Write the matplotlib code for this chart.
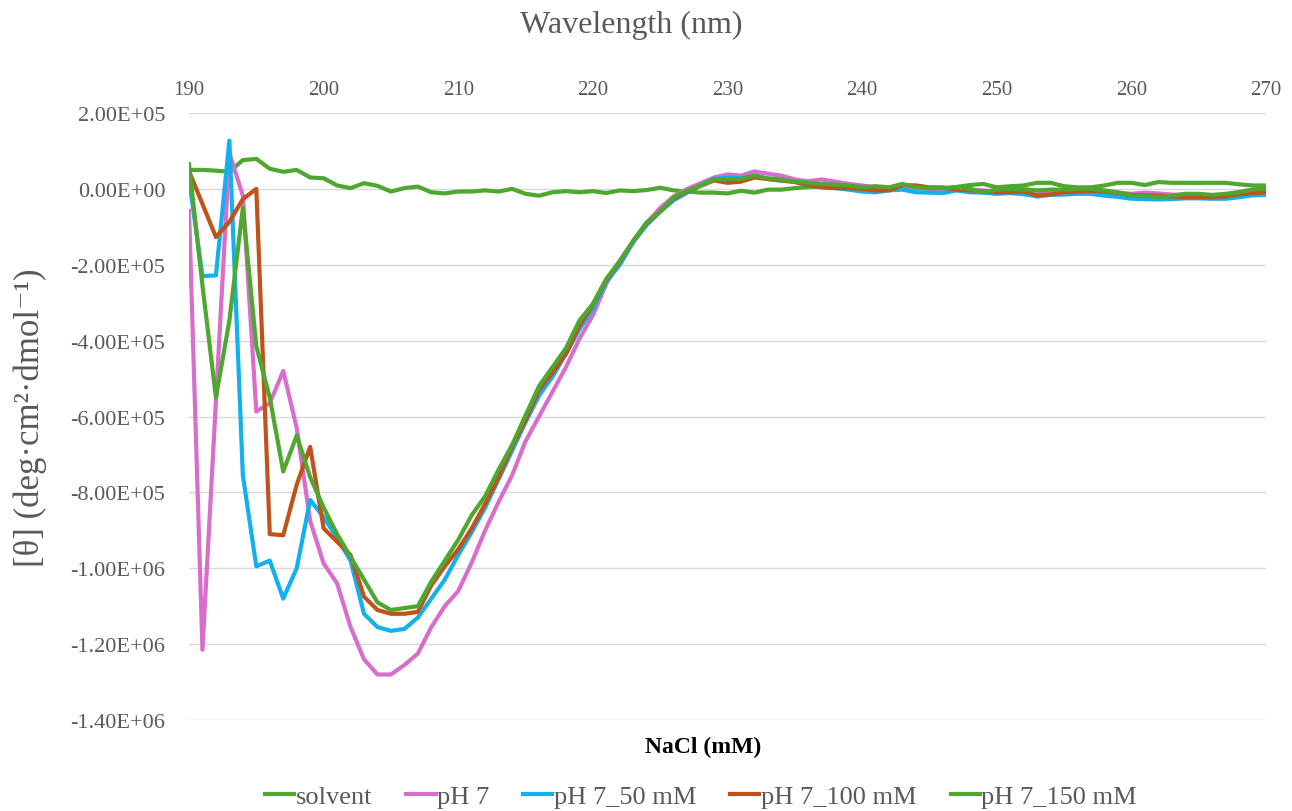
import numpy as np
import matplotlib
matplotlib.use("Agg")
import matplotlib.pyplot as plt

# CD spectra, mean residue ellipticity in units of 1e5 deg cm2 dmol-1
wavelength = np.arange(190, 271)

solvent = [
    0.50, 0.50, 0.48, 0.45, 0.76, 0.79, 0.53, 0.45, 0.50, 0.30,
    0.28, 0.09, 0.02, 0.15, 0.08, -0.07, 0.02, 0.06, -0.09, -0.12,
    -0.07, -0.07, -0.04, -0.07, 0.00, -0.13, -0.18, -0.09, -0.06, -0.09,
    -0.06, -0.11, -0.04, -0.06, -0.03, 0.03, -0.04, -0.07, -0.10, -0.10,
    -0.12, -0.05, -0.10, -0.02, -0.02, 0.02, 0.05, 0.06, 0.04, 0.03,
    0.02, 0.05, 0.03, 0.05, 0.04, 0.02, 0.01, 0.05, 0.10, 0.13,
    0.04, 0.07, 0.09, 0.16, 0.16, 0.07, 0.04, 0.04, 0.09, 0.16,
    0.16, 0.10, 0.18, 0.16, 0.16, 0.16, 0.16, 0.16, 0.12, 0.09,
    0.09,
]
ph7 = [
    -0.58, -12.15, -5.60, 0.95, -0.18, -5.87, -5.65, -4.80, -6.30, -8.75,
    -9.87, -10.40, -11.55, -12.40, -12.80, -12.80, -12.55, -12.25, -11.55, -11.00,
    -10.60, -9.85, -9.00, -8.25, -7.55, -6.65, -6.00, -5.35, -4.70, -3.95,
    -3.33, -2.50, -1.90, -1.40, -0.90, -0.50, -0.20, 0.00, 0.15, 0.30,
    0.38, 0.35, 0.46, 0.40, 0.35, 0.25, 0.20, 0.25, 0.19, 0.13,
    0.09, 0.04, 0.02, 0.03, 0.01, 0.00, 0.00, -0.01, -0.02, -0.04,
    -0.07, -0.05, 0.00, -0.05, -0.07, -0.05, -0.04, -0.05, -0.08, -0.10,
    -0.13, -0.10, -0.12, -0.15, -0.16, -0.17, -0.18, -0.15, -0.08, -0.02,
    0.00,
]
ph7_50 = [
    0.26, -2.30, -2.28, 1.27, -7.55, -9.95, -9.80, -10.80, -10.00, -8.20,
    -8.65, -9.20, -9.80, -11.20, -11.55, -11.65, -11.60, -11.30, -10.80, -10.30,
    -9.65, -9.05, -8.40, -7.65, -6.90, -6.15, -5.45, -4.95, -4.35, -3.70,
    -3.15, -2.45, -2.00, -1.40, -0.95, -0.60, -0.30, -0.10, 0.10, 0.26,
    0.30, 0.28, 0.35, 0.26, 0.22, 0.19, 0.09, 0.05, 0.02, -0.02,
    -0.07, -0.09, -0.04, -0.02, -0.09, -0.10, -0.11, -0.04, -0.09, -0.10,
    -0.13, -0.11, -0.14, -0.20, -0.16, -0.15, -0.13, -0.13, -0.18, -0.21,
    -0.26, -0.27, -0.28, -0.27, -0.25, -0.25, -0.26, -0.26, -0.22, -0.17,
    -0.16,
]
ph7_100 = [
    0.47, -0.40, -1.27, -0.87, -0.27, 0.00, -9.10, -9.13, -7.80, -6.80,
    -8.95, -9.30, -9.65, -10.75, -11.10, -11.20, -11.20, -11.15, -10.45, -9.95,
    -9.50, -8.95, -8.30, -7.60, -6.80, -6.10, -5.30, -4.85, -4.35, -3.60,
    -3.05, -2.40, -1.92, -1.37, -0.90, -0.60, -0.25, -0.07, 0.08, 0.22,
    0.16, 0.19, 0.30, 0.26, 0.22, 0.18, 0.10, 0.04, 0.02, 0.02,
    0.00, -0.04, -0.04, 0.10, 0.09, 0.04, 0.04, -0.02, -0.04, -0.07,
    -0.09, -0.09, -0.07, -0.17, -0.15, -0.09, -0.07, -0.05, -0.07, -0.11,
    -0.16, -0.17, -0.18, -0.20, -0.22, -0.22, -0.22, -0.20, -0.14, -0.11,
    -0.09,
]
ph7_150 = [
    0.65, -2.55, -5.50, -3.47, -0.50, -4.15, -5.50, -7.45, -6.50, -7.60,
    -8.40, -9.10, -9.70, -10.30, -10.90, -11.10, -11.05, -11.00, -10.35, -9.80,
    -9.25, -8.60, -8.10, -7.40, -6.75, -5.97, -5.20, -4.70, -4.20, -3.47,
    -3.03, -2.37, -1.90, -1.37, -0.88, -0.60, -0.22, -0.05, 0.08, 0.25,
    0.25, 0.26, 0.35, 0.28, 0.25, 0.19, 0.16, 0.13, 0.11, 0.09,
    0.04, 0.07, 0.04, 0.13, 0.04, 0.02, 0.02, 0.04, 0.00, -0.09,
    -0.02, 0.00, -0.02, -0.04, -0.02, -0.02, 0.00, 0.00, -0.04, -0.09,
    -0.18, -0.19, -0.22, -0.18, -0.13, -0.13, -0.16, -0.13, -0.09, -0.02,
    0.02,
]

series = [
    ("solvent", solvent, "#4EA72E"),
    ("pH 7", ph7, "#D86ECC"),
    ("pH 7_50 mM", ph7_50, "#13B0EE"),
    ("pH 7_100 mM", ph7_100, "#C0531A"),
    ("pH 7_150 mM", ph7_150, "#4EA72E"),
]

serif = ["Liberation Serif", "DejaVu Serif"]
plt.rcParams["font.family"] = serif
grey = "#595959"

fig = plt.figure(figsize=(12.92, 8.12), dpi=100)
ax = fig.add_axes([189 / 1292, 1 - 721 / 812, (1266 - 189) / 1292, (721 - 114) / 812])

for name, vals, col in series:
    ax.plot(wavelength, np.array(vals) * 1e5, color=col, lw=3, label=name,
            solid_joinstyle="round")

ax.set_xlim(190, 270)
ax.set_ylim(-1.4e6, 2e5)
ax.set_xticks(np.arange(190, 271, 10))
ax.set_yticks(np.arange(-1.4e6, 2.01e5, 2e5))
ax.yaxis.set_major_formatter(plt.FuncFormatter(lambda v, p: f"{v:.2E}"))
ax.xaxis.tick_top()
ax.tick_params(axis="both", length=0, colors=grey)
ax.tick_params(axis="x", labelsize=15, pad=10)
ax.tick_params(axis="y", labelsize=16, pad=17)
ax.grid(axis="y", color="#D9D9D9", lw=1)
ax.set_axisbelow(True)
for s in ax.spines.values():
    s.set_visible(False)

fig.text(631 / 1292, 1 - 25 / 812, "Wavelength (nm)", ha="center", va="center",
         fontsize=23, color=grey)
fig.text(703 / 1292, 1 - 747 / 812, "NaCl (mM)", ha="center", va="center",
         fontsize=17, fontweight="bold", color="black")
fig.text(30 / 1292, 1 - 418 / 812, "[θ] (deg·cm²·dmol⁻¹)", ha="center", va="center",
         rotation=90, fontsize=25, color=grey)

fig.legend(loc="center", bbox_to_anchor=(701 / 1292, 1 - 797 / 812), ncol=5,
           frameon=False, fontsize=19, handlelength=1.1, handletextpad=0.05,
           columnspacing=1.3, labelcolor=grey)

fig.savefig("out.png", dpi=100)
